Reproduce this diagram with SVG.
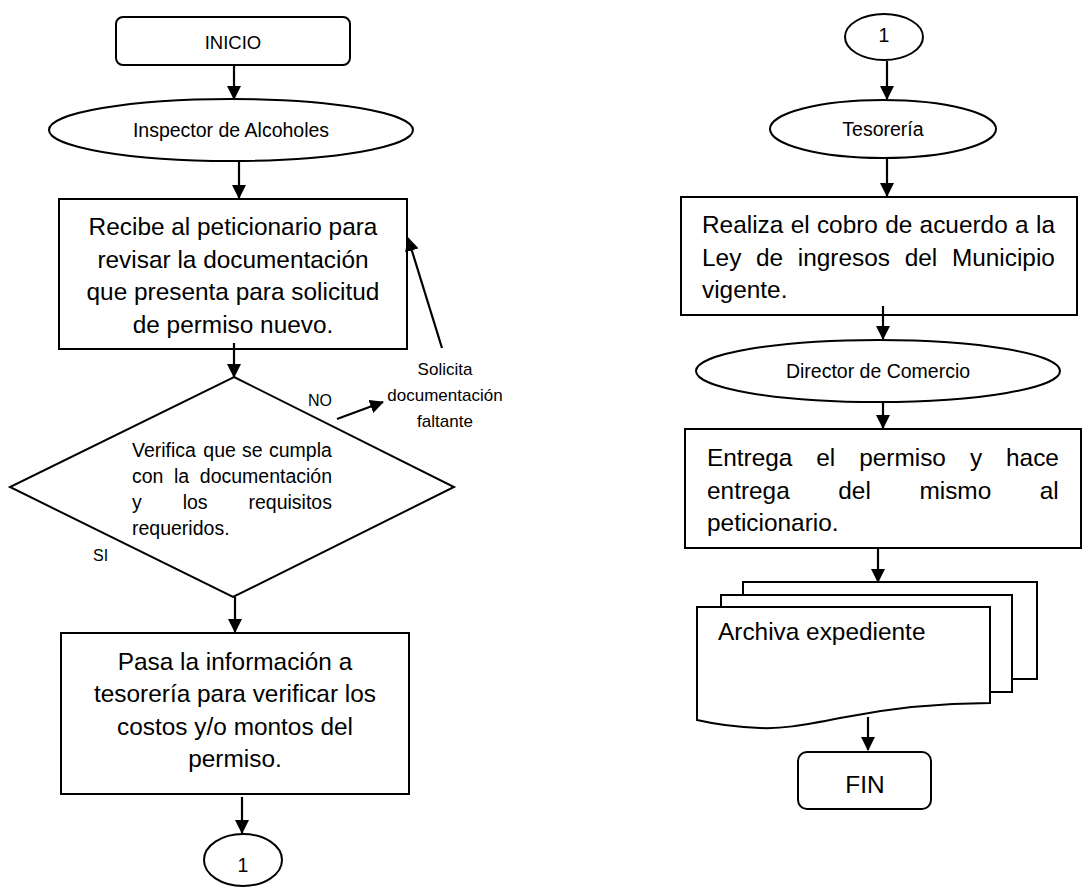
<svg xmlns="http://www.w3.org/2000/svg" width="1086" height="888" viewBox="0 0 1086 888">
<defs>
<marker id="ah" viewBox="0 0 14 14" refX="13" refY="7" markerWidth="14" markerHeight="14" markerUnits="userSpaceOnUse" orient="auto">
<path d="M0,0 L14,7 L0,14 z" fill="#000"/>
</marker>
<style>
.s{fill:#fff;stroke:#000;stroke-width:2}
.c{stroke:#000;stroke-width:2.2;fill:none;marker-end:url(#ah)}
text{font-family:"Liberation Sans",Arial,sans-serif;fill:#000}
.m{text-anchor:middle}
.big{font-size:24.4px}
.mid{font-size:19.5px}
.sm{font-size:19.5px}
.lab{font-size:16px}
</style>
</defs>
<rect width="1086" height="888" fill="#fff"/>

<g id="inicio">
<rect class="s" x="116" y="17" width="234" height="48" rx="7"/>
<text class="m" x="233" y="49" font-size="18.5">INICIO</text>
</g>

<g id="inspector">
<ellipse class="s" cx="231" cy="130" rx="182" ry="31"/>
<text class="m sm" x="231" y="137">Inspector de Alcoholes</text>
</g>

<g id="recibe">
<rect class="s" x="59" y="199" width="348" height="150"/>
<text class="m big" x="233" y="235">Recibe al peticionario para</text>
<text class="m big" x="233" y="267.5">revisar la documentación</text>
<text class="m big" x="233" y="300">que presenta para solicitud</text>
<text class="m big" x="233" y="332.5">de permiso nuevo.</text>
</g>

<g id="verifica">
<polygon class="s" points="234,377 454,487 233,597 10,487"/>
<text class="mid" y="457"><tspan x="132">Verifica</tspan><tspan x="203.3">que</tspan><tspan x="242.1">se</tspan><tspan x="269">cumpla</tspan></text>
<text class="mid" y="483"><tspan x="132">con</tspan><tspan x="174">la</tspan><tspan x="199.8">documentación</tspan></text>
<text class="mid" y="509"><tspan x="132">y</tspan><tspan x="182.7">los</tspan><tspan x="248.5">requisitos</tspan></text>
<text class="mid" x="132" y="535">requeridos.</text>
</g>

<g id="pasa">
<rect class="s" x="61" y="633" width="348" height="161"/>
<text class="m big" x="235" y="670">Pasa la información a</text>
<text class="m big" x="235" y="702">tesorería para verificar los</text>
<text class="m big" x="235" y="735">costos y/o montos del</text>
<text class="m big" x="235" y="767">permiso.</text>
</g>

<g id="conector1a">
<ellipse class="s" cx="243" cy="860" rx="39" ry="26"/>
<text class="m sm" x="243" y="872">1</text>
</g>

<g id="conector1b">
<ellipse class="s" cx="884" cy="37" rx="39" ry="23"/>
<text class="m sm" x="884" y="42">1</text>
</g>

<g id="tesoreria">
<ellipse class="s" cx="883" cy="129" rx="113" ry="29"/>
<text class="m sm" x="883" y="136">Tesorería</text>
</g>

<g id="realiza">
<rect class="s" x="681" y="197" width="396" height="118"/>
<text class="big" y="233"><tspan x="702">Realiza</tspan><tspan x="790.7">el</tspan><tspan x="816.9">cobro</tspan><tspan x="885.2">de</tspan><tspan x="919.6">acuerdo</tspan><tspan x="1015.1">a</tspan><tspan x="1036">la</tspan></text>
<text class="big" y="265.5"><tspan x="702">Ley</tspan><tspan x="756">de</tspan><tspan x="797.8">ingresos</tspan><tspan x="904.7">del</tspan><tspan x="951.9">Municipio</tspan></text>
<text class="big" x="702" y="298">vigente.</text>
</g>

<g id="director">
<ellipse class="s" cx="878" cy="371" rx="182" ry="31"/>
<text class="m sm" x="878" y="378">Director de Comercio</text>
</g>

<g id="entrega">
<rect class="s" x="685" y="429" width="396" height="119"/>
<text class="big" y="466"><tspan x="707">Entrega</tspan><tspan x="816.3">el</tspan><tspan x="859.2">permiso</tspan><tspan x="969.9">y</tspan><tspan x="1006">hace</tspan></text>
<text class="big" y="498.5"><tspan x="707">entrega</tspan><tspan x="838.3">del</tspan><tspan x="919.4">mismo</tspan><tspan x="1039.8">al</tspan></text>
<text class="big" x="707" y="531">peticionario.</text>
</g>

<g id="archiva">
<rect class="s" x="743" y="582" width="294" height="97"/>
<rect class="s" x="721" y="595" width="291" height="97"/>
<path class="s" d="M697,607 H990 V703 C930,703 880,710 840,718 C800,726 780,729 760,728 C730,727 710,723 697,720 Z"/>
<text class="big" x="718" y="640">Archiva expediente</text>
</g>

<g id="fin">
<rect class="s" x="798" y="752" width="133" height="57" rx="9"/>
<text class="m big" x="865" y="793">FIN</text>
</g>

<g id="labels">
<text class="lab" x="308" y="406">NO</text>
<text class="lab" x="93" y="561">SI</text>
<text class="m" font-size="17" x="445" y="375">Solicita</text>
<text class="m" font-size="17" x="445" y="401">documentación</text>
<text class="m" font-size="17" x="445" y="427">faltante</text>
</g>

<g id="connectors">
<line class="c" x1="234" y1="65" x2="234" y2="99"/>
<line class="c" x1="239" y1="162" x2="239" y2="198"/>
<line class="c" x1="234" y1="343" x2="234" y2="377"/>
<line class="c" x1="337" y1="419" x2="383" y2="402"/>
<line class="c" x1="442" y1="348" x2="408" y2="238"/>
<line class="c" x1="235" y1="597" x2="235" y2="632"/>
<line class="c" x1="242" y1="797" x2="242" y2="833"/>
<line class="c" x1="887" y1="61" x2="887" y2="99"/>
<line class="c" x1="887" y1="159" x2="887" y2="196"/>
<line class="c" x1="883" y1="306" x2="883" y2="339"/>
<line class="c" x1="883" y1="402" x2="883" y2="428"/>
<line class="c" x1="878" y1="548" x2="878" y2="582"/>
<line class="c" x1="868" y1="717" x2="868" y2="750"/>
</g>
</svg>
